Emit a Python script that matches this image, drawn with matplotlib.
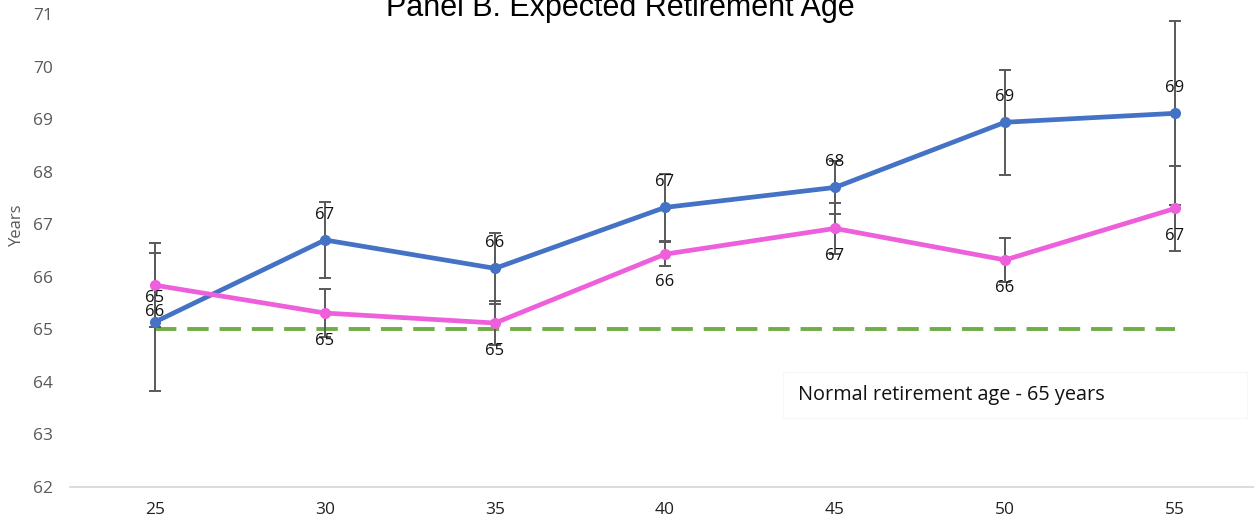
import matplotlib
matplotlib.use("Agg")
import matplotlib.pyplot as plt

# Age groups and expected retirement ages
ages = [25, 30, 35, 40, 45, 50, 55]
blue_vals = [65.14, 66.70, 66.16, 67.32, 67.70, 68.94, 69.11]
blue_err = [1.32, 0.72, 0.67, 0.63, 0.50, 1.00, 1.75]
pink_vals = [65.84, 65.31, 65.12, 66.43, 66.92, 66.32, 67.30]
pink_err = [0.80, 0.45, 0.42, 0.23, 0.48, 0.41, 0.80]
blue_labels = ["66", "67", "66", "67", "68", "69", "69"]
pink_labels = ["65", "65", "65", "66", "67", "66", "67"]
normal_age = 65
yticks = [62, 63, 64, 65, 66, 67, 68, 69, 70, 71]

plt.rcParams['font.family'] = ['Open Sans', 'DejaVu Sans']

fig = plt.figure(figsize=(12.54, 5.23), dpi=100)
ax = fig.add_axes([70 / 1254, 1 - 487 / 523, 1190 / 1254, (487 - 14) / 523])

BLUE = "#4472C4"
PINK = "#EE5FDB"
GREEN = "#70AD47"
GREY = "#595959"

ax.plot([ages[0], ages[-1]], [normal_age, normal_age], color=GREEN, lw=2.8,
        dashes=(5.5, 2.8), zorder=2)

for vals, errs, col in [(blue_vals, blue_err, BLUE), (pink_vals, pink_err, PINK)]:
    ax.errorbar(ages, vals, yerr=errs, fmt="none", ecolor=GREY, elinewidth=1.4,
                capsize=4, capthick=1.4, zorder=3)
    ax.plot(ages, vals, color=col, lw=3.4, marker="o", markersize=7,
            solid_joinstyle="round", zorder=4)

# Value labels: blue above its points, pink below
for i, (x, v, t) in enumerate(zip(ages, blue_vals, blue_labels)):
    dy = 7 if i == 0 else 18
    ax.annotate(t, (x, v), xytext=(0, dy), textcoords="offset points",
                ha="center", va="center", fontsize=12, color="#111111", zorder=5)
for i, (x, v, t) in enumerate(zip(ages, pink_vals, pink_labels)):
    dy = -9 if i == 0 else -20
    ax.annotate(t, (x, v), xytext=(0, dy), textcoords="offset points",
                ha="center", va="center", fontsize=12, color="#111111", zorder=5)

# Note on the reference line, on a faint white box
box = plt.Rectangle((783 / 1254, 1 - 418 / 523), (1247 - 783) / 1254, 46 / 523,
                    transform=fig.transFigure, fc="white", ec="#F7F7F7", lw=0.8,
                    zorder=6)
fig.patches.append(box)
fig.text(951 / 1254, 1 - 395 / 523, "Normal retirement age - 65 years",
         ha="center", va="center", fontsize=14.3, color="#111111", zorder=7)

ax.set_xlim(22.5, 57.5)
ax.set_ylim(62, 71)
ax.set_xticks(ages)
ax.set_yticks(yticks)
ax.tick_params(axis="both", length=0, labelsize=12.5, colors=GREY)
ax.tick_params(axis="x", pad=11, labelcolor="#222222")
ax.tick_params(axis="y", pad=12)
for side in ["top", "right", "left"]:
    ax.spines[side].set_visible(False)
ax.spines["bottom"].set_color("#D9D9D9")
ax.spines["bottom"].set_linewidth(1.3)

fig.text(17 / 1254, 1 - 225 / 523, "Years", rotation=90, ha="center",
         va="center", fontsize=12, color=GREY)

fig.text(620 / 1254, 1 - 8 / 523, "Panel B. Expected Retirement Age",
         ha="center", va="center", fontsize=22, color="black",
         family=["Liberation Sans", "DejaVu Sans"])

fig.savefig("out.png", dpi=100)
